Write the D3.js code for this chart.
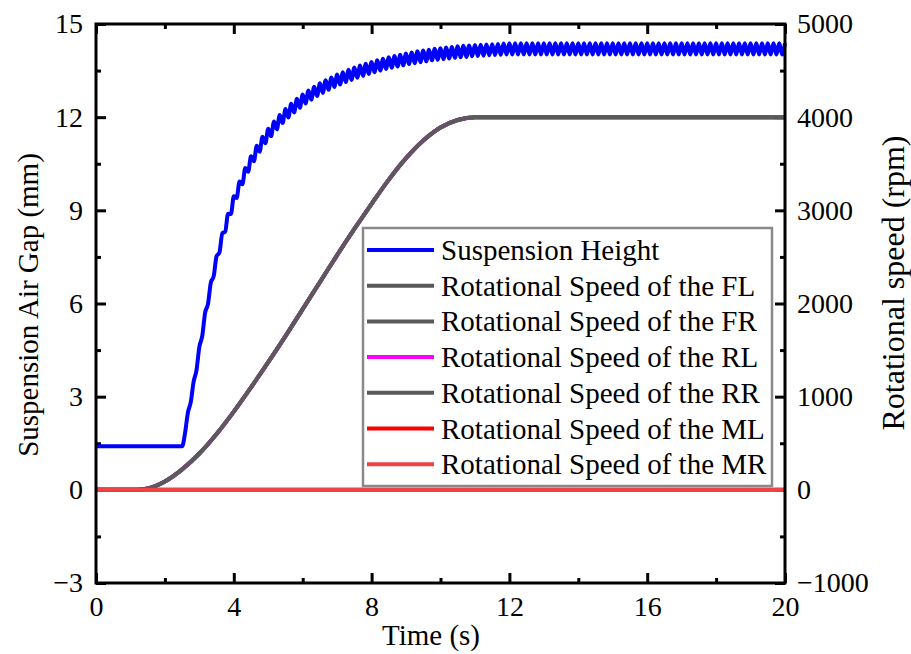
<!DOCTYPE html>
<html>
<head>
    <meta charset="utf-8">
    <script src="https://cdn.jsdelivr.net/npm/d3@7/dist/d3.min.js"></script>
    <style>
        * { margin: 0; padding: 0; }
        body { background: #fff; }
        svg text { font-family: "Liberation Serif", "Times New Roman", serif; }
    </style>
</head>
<body>
<svg id="chart" width="911" height="654"></svg>
<script>
    // ---- data ----
    var timeTicks = [0, 4, 8, 12, 16, 20];
    var timeMinor = [2, 6, 10, 14, 18];
    var gapTicks = [-3, 0, 3, 6, 9, 12, 15];
    var gapMinor = [-1.5, 1.5, 4.5, 7.5, 10.5, 13.5];
    var speedTicks = [-1000, 0, 1000, 2000, 3000, 4000, 5000];
    var speedMinor = [-500, 500, 1500, 2500, 3500, 4500];

    // suspension height: flat until lift-off, then sampled every 1/12 s
    var heightFlat = [[0, 1.4], [2.5, 1.4]];
    var heightStart = 2.5, heightStep = 1 / 12;
    var heightValues = [
        1.40, 1.82, 2.48, 2.82, 3.48, 3.85, 4.60, 4.95, 5.70, 5.98,
        6.67, 6.88, 7.52, 7.64, 8.26, 8.31, 8.89, 8.88, 9.45, 9.40,
        9.93, 9.84, 10.36, 10.24, 10.74, 10.58, 11.08, 10.89, 11.37, 11.16,
        11.63, 11.39, 11.86, 11.61, 12.07, 11.81, 12.26, 11.99, 12.43, 12.15,
        12.59, 12.30, 12.73, 12.44, 12.86, 12.56, 12.98, 12.68, 13.09, 12.78,
        13.19, 12.88, 13.28, 12.97, 13.37, 13.05, 13.45, 13.13, 13.53, 13.20,
        13.60, 13.27, 13.66, 13.33, 13.72, 13.39, 13.78, 13.45, 13.83, 13.50,
        13.88, 13.55, 13.93, 13.59, 13.97, 13.63, 14.01, 13.67, 14.05, 13.71,
        14.08, 13.74, 14.12, 13.77, 14.15, 13.80, 14.17, 13.83, 14.20, 13.85,
        14.22, 13.87, 14.24, 13.89, 14.26, 13.91, 14.28, 13.93, 14.30, 13.94,
        14.31, 13.96, 14.32, 13.97, 14.33, 13.98, 14.34, 13.99, 14.35, 14.00,
        14.36, 14.01, 14.37, 14.02, 14.38, 14.02, 14.38, 14.02, 14.38, 14.02,
        14.38, 14.02, 14.38, 14.02, 14.38, 14.02, 14.38, 14.02, 14.38, 14.02,
        14.38, 14.02, 14.38, 14.02, 14.38, 14.02, 14.38, 14.02, 14.38, 14.02,
        14.38, 14.02, 14.38, 14.02, 14.38, 14.02, 14.38, 14.02, 14.38, 14.02,
        14.38, 14.02, 14.38, 14.02, 14.38, 14.02, 14.38, 14.02, 14.38, 14.02,
        14.38, 14.02, 14.38, 14.02, 14.38, 14.02, 14.38, 14.02, 14.38, 14.02,
        14.38, 14.02, 14.38, 14.02, 14.38, 14.02, 14.38, 14.02, 14.38, 14.02,
        14.38, 14.02, 14.38, 14.02, 14.38, 14.02, 14.38, 14.02, 14.38, 14.02,
        14.38, 14.02, 14.38, 14.02, 14.38, 14.02, 14.38, 14.02, 14.38, 14.02,
        14.38, 14.02, 14.38, 14.02, 14.38, 14.02, 14.38, 14.02, 14.38, 14.02,
        14.38
    ];

    // wheel speeds (FL, FR, RL, RR follow the same profile)
    var speedTime = [0, 1.0, 1.2, 1.5, 2.0, 2.5, 3.0, 3.5, 4.0, 4.5, 5.0, 5.5, 6.0, 6.5, 7.0, 7.5, 8.0, 8.5, 9.0, 9.5, 10.0, 10.5, 11.0, 20];
    var wheelSpeed = [0, 0, 2, 15, 90, 220, 390, 600, 840, 1100, 1370, 1650, 1940, 2230, 2520, 2800, 3070, 3330, 3560, 3750, 3890, 3970, 4000, 4000];
    var midTime = [0, 20];
    var midSpeed = [0, 0];

    var seriesNames = ["Suspension Height", "Rotational Speed of the FL", "Rotational Speed of the FR",
        "Rotational Speed of the RL", "Rotational Speed of the RR", "Rotational Speed of the ML", "Rotational Speed of the MR"];
    var seriesColors = ["#0000ff", "#585858", "#5a5a5a", "#ff00ff", "#5a5a5a", "#ff0000", "#ee4444"];

    // ---- build ----
    var heightData = heightFlat.concat(heightValues.map(function (v, i) { return [heightStart + i * heightStep, v]; }));
    var wheelData = speedTime.map(function (t, i) { return [t, wheelSpeed[i]]; });
    var midData = midTime.map(function (t, i) { return [t, midSpeed[i]]; });

    var margin = { left: 96, right: 785, top: 24, bottom: 583 };
    var svg = d3.select("#chart");

    var x = d3.scaleLinear().domain([0, 20]).range([margin.left, margin.right]);
    var yGap = d3.scaleLinear().domain([-3, 15]).range([margin.bottom, margin.top]);
    var ySpeed = d3.scaleLinear().domain([-1000, 5000]).range([margin.bottom, margin.top]);

    var fmt = d3.format("");

    function styleAxis(g) {
        g.select(".domain").remove();
        g.selectAll("line").attr("stroke", "#000").attr("stroke-width", 3);
        g.selectAll("text").attr("fill", "#000").style("font-size", "28px");
    }

    // bottom / top
    svg.append("g").attr("transform", "translate(0," + margin.bottom + ")")
        .call(d3.axisBottom(x).tickValues(timeTicks).tickSize(-10).tickPadding(13).tickFormat(fmt)).call(styleAxis);
    svg.append("g").attr("transform", "translate(0," + margin.bottom + ")")
        .call(d3.axisBottom(x).tickValues(timeMinor).tickSize(-5).tickFormat("")).call(styleAxis);
    svg.append("g").attr("transform", "translate(0," + margin.top + ")")
        .call(d3.axisTop(x).tickValues(timeTicks).tickSize(-10).tickFormat("")).call(styleAxis);
    svg.append("g").attr("transform", "translate(0," + margin.top + ")")
        .call(d3.axisTop(x).tickValues(timeMinor).tickSize(-5).tickFormat("")).call(styleAxis);

    // left
    svg.append("g").attr("transform", "translate(" + margin.left + ",0)")
        .call(d3.axisLeft(yGap).tickValues(gapTicks).tickSize(-10).tickPadding(13).tickFormat(d3.format("d"))).call(styleAxis);
    svg.append("g").attr("transform", "translate(" + margin.left + ",0)")
        .call(d3.axisLeft(yGap).tickValues(gapMinor).tickSize(-5).tickFormat("")).call(styleAxis);

    // right
    svg.append("g").attr("transform", "translate(" + margin.right + ",0)")
        .call(d3.axisRight(ySpeed).tickValues(speedTicks).tickSize(-10).tickPadding(12).tickFormat(d3.format("d"))).call(styleAxis);
    svg.append("g").attr("transform", "translate(" + margin.right + ",0)")
        .call(d3.axisRight(ySpeed).tickValues(speedMinor).tickSize(-5).tickFormat("")).call(styleAxis);

    // lines
    var gapLine = d3.line().x(function (d) { return x(d[0]); }).y(function (d) { return yGap(d[1]); }).curve(d3.curveMonotoneX);
    var speedLine = d3.line().x(function (d) { return x(d[0]); }).y(function (d) { return ySpeed(d[1]); }).curve(d3.curveMonotoneX);

    var lines = [
        { path: gapLine(heightData) },
        { path: speedLine(wheelData) },
        { path: speedLine(wheelData) },
        { path: speedLine(wheelData) },
        { path: speedLine(wheelData) },
        { path: speedLine(midData) },
        { path: speedLine(midData) }
    ];

    svg.append("g").selectAll("path")
        .data(lines)
        .enter()
        .append("path")
        .attr("d", function (d) { return d.path; })
        .attr("fill", "none")
        .attr("stroke", function (d, i) { return seriesColors[i]; })
        .attr("stroke-width", 4)
        .attr("stroke-linejoin", "round");

    // frame
    svg.append("rect")
        .attr("x", margin.left).attr("y", margin.top)
        .attr("width", margin.right - margin.left).attr("height", margin.bottom - margin.top)
        .attr("fill", "none").attr("stroke", "#000").attr("stroke-width", 3);

    // axis titles
    svg.append("text").attr("x", 431).attr("y", 645).attr("text-anchor", "middle")
        .style("font-size", "29px").text("Time (s)");
    svg.append("text").attr("transform", "translate(28,305) rotate(-90)").attr("text-anchor", "middle")
        .attr("dominant-baseline", "central").style("font-size", "29px").text("Suspension Air Gap (mm)");
    svg.append("text").attr("transform", "translate(893,283) rotate(-90)").attr("text-anchor", "middle")
        .attr("dominant-baseline", "central").style("font-size", "32px").text("Rotational speed (rpm)");

    // legend
    var legend = svg.append("g");
    legend.append("rect").attr("x", 363).attr("y", 228).attr("width", 409).attr("height", 258)
        .attr("fill", "#fff").attr("stroke", "#8a8a8a").attr("stroke-width", 2.5);
    var rows = legend.selectAll("g.row").data(seriesNames).enter().append("g")
        .attr("transform", function (d, i) { return "translate(0," + (250 + i * 35.7) + ")"; });
    rows.append("line").attr("x1", 367).attr("x2", 434)
        .attr("stroke", function (d, i) { return seriesColors[i]; }).attr("stroke-width", 4);
    rows.append("text").attr("x", 441).attr("dominant-baseline", "central")
        .style("font-size", "29px").text(function (d) { return d; });
</script>
</body>
</html>
